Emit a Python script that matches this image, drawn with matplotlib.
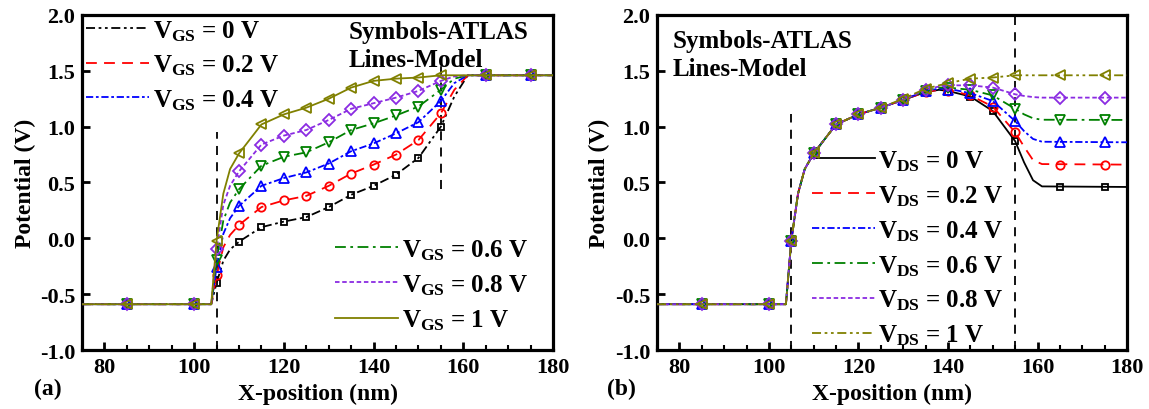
import numpy as np
import matplotlib.pyplot as plt
from matplotlib.lines import Line2D

plt.rcParams['font.family'] = 'Liberation Serif'
plt.rcParams['font.weight'] = 'bold'
plt.rcParams['mathtext.fontset'] = 'custom'
plt.rcParams['mathtext.rm'] = 'Liberation Serif:bold'
plt.rcParams['mathtext.bf'] = 'Liberation Serif:bold'
plt.rcParams['mathtext.it'] = 'Liberation Serif:bold'

# ---- data: symbols (ATLAS) ----
x_sym = [85, 100, 105, 110, 115, 120, 125, 130, 135, 140, 145, 150, 155, 165, 175]

# (a) potential vs VGS
a_sym = {
    '0':   [-0.59, -0.59, -0.40, -0.03, 0.10, 0.15, 0.19, 0.28, 0.39, 0.47, 0.57, 0.72, 1.00, 1.46, 1.46],
    '0.2': [-0.59, -0.59, -0.33, 0.12, 0.28, 0.34, 0.38, 0.47, 0.58, 0.66, 0.75, 0.88, 1.12, 1.46, 1.46],
    '0.4': [-0.59, -0.59, -0.26, 0.29, 0.47, 0.54, 0.59, 0.67, 0.78, 0.85, 0.94, 1.04, 1.23, 1.46, 1.46],
    '0.6': [-0.59, -0.59, -0.19, 0.44, 0.65, 0.73, 0.77, 0.86, 0.97, 1.03, 1.10, 1.18, 1.33, 1.46, 1.46],
    '0.8': [-0.59, -0.59, -0.10, 0.60, 0.84, 0.92, 0.97, 1.06, 1.16, 1.21, 1.26, 1.32, 1.41, 1.46, 1.46],
    '1':   [-0.59, -0.59, -0.02, 0.76, 1.02, 1.11, 1.17, 1.25, 1.35, 1.41, 1.43, 1.44, 1.46, 1.46, 1.46],
}

# (b) potential vs VDS
b_sym = {
    '0':   [-0.59, -0.59, -0.02, 0.76, 1.02, 1.11, 1.17, 1.24, 1.31, 1.31, 1.27, 1.14, 0.87, 0.46, 0.46],
    '0.2': [-0.59, -0.59, -0.02, 0.76, 1.02, 1.11, 1.17, 1.24, 1.31, 1.32, 1.28, 1.18, 0.95, 0.66, 0.66],
    '0.4': [-0.59, -0.59, -0.02, 0.76, 1.02, 1.11, 1.17, 1.24, 1.32, 1.33, 1.30, 1.23, 1.05, 0.86, 0.86],
    '0.6': [-0.59, -0.59, -0.02, 0.76, 1.02, 1.11, 1.17, 1.24, 1.32, 1.35, 1.33, 1.28, 1.16, 1.06, 1.06],
    '0.8': [-0.59, -0.59, -0.02, 0.76, 1.02, 1.11, 1.17, 1.24, 1.33, 1.37, 1.37, 1.35, 1.29, 1.26, 1.26],
    '1':   [-0.59, -0.59, -0.02, 0.76, 1.02, 1.11, 1.17, 1.25, 1.34, 1.39, 1.43, 1.44, 1.46, 1.46, 1.46],
}

# ---- data: lines (model) ----
x_line_a = [75, 103.8, 105, 106.5, 108, 110, 115, 120, 125, 130, 135, 140, 145, 150, 155, 158, 161, 180]
a_line = {
    '0':   [-0.59, -0.59, -0.40, -0.20, -0.10, -0.03, 0.10, 0.15, 0.19, 0.28, 0.39, 0.47, 0.57, 0.72, 1.00, 1.27, 1.46, 1.46],
    '0.2': [-0.59, -0.59, -0.33, -0.08, 0.03, 0.12, 0.28, 0.34, 0.38, 0.47, 0.58, 0.66, 0.75, 0.88, 1.12, 1.33, 1.46, 1.46],
    '0.4': [-0.59, -0.59, -0.26, 0.04, 0.18, 0.29, 0.47, 0.54, 0.59, 0.67, 0.78, 0.85, 0.94, 1.04, 1.23, 1.39, 1.46, 1.46],
    '0.6': [-0.59, -0.59, -0.19, 0.16, 0.32, 0.44, 0.65, 0.73, 0.77, 0.86, 0.97, 1.03, 1.10, 1.18, 1.33, 1.43, 1.46, 1.46],
    '0.8': [-0.59, -0.59, -0.10, 0.30, 0.47, 0.60, 0.84, 0.92, 0.97, 1.06, 1.16, 1.21, 1.26, 1.32, 1.41, 1.45, 1.46, 1.46],
    '1':   [-0.59, -0.59, -0.02, 0.40, 0.62, 0.76, 1.02, 1.11, 1.17, 1.25, 1.35, 1.41, 1.43, 1.44, 1.46, 1.46, 1.46, 1.46],
}

x_line_b = [75, 103.8, 105, 106.5, 108, 110, 115, 120, 125, 130, 135, 138, 140, 145, 150, 155, 157, 159, 161, 180]
b_line = {
    '0':   [-0.59, -0.59, -0.02, 0.40, 0.62, 0.76, 1.02, 1.11, 1.17, 1.24, 1.31, 1.33, 1.32, 1.27, 1.14, 0.87, 0.68, 0.52, 0.465, 0.46],
    '0.2': [-0.59, -0.59, -0.02, 0.40, 0.62, 0.76, 1.02, 1.11, 1.17, 1.24, 1.31, 1.33, 1.33, 1.28, 1.18, 0.95, 0.82, 0.70, 0.665, 0.66],
    '0.4': [-0.59, -0.59, -0.02, 0.40, 0.62, 0.76, 1.02, 1.11, 1.17, 1.24, 1.32, 1.34, 1.34, 1.30, 1.23, 1.05, 0.96, 0.89, 0.865, 0.86],
    '0.6': [-0.59, -0.59, -0.02, 0.40, 0.62, 0.76, 1.02, 1.11, 1.17, 1.24, 1.32, 1.35, 1.35, 1.33, 1.28, 1.16, 1.11, 1.075, 1.062, 1.06],
    '0.8': [-0.59, -0.59, -0.02, 0.40, 0.62, 0.76, 1.02, 1.11, 1.17, 1.24, 1.33, 1.36, 1.37, 1.37, 1.35, 1.29, 1.275, 1.265, 1.26, 1.26],
    '1':   [-0.59, -0.59, -0.02, 0.40, 0.62, 0.76, 1.02, 1.11, 1.17, 1.25, 1.34, 1.37, 1.39, 1.43, 1.44, 1.46, 1.46, 1.46, 1.46, 1.46],
}

keys = ['0', '0.2', '0.4', '0.6', '0.8', '1']
colors = ['black', '#ff0000', '#0000ff', '#008000', '#8a2be2', '#808000']
markers = ['s', 'o', '^', 'v', 'D', '<']
msizes = [5, 6, 7, 7, 6, 7]

dashdotdot = (0, (5, 2, 1.5, 2, 1.5, 2))
styles_a = [dashdotdot, (0, (6, 4)), (0, (4, 1.5, 1.5, 1.5)), (0, (6, 2.5, 1.5, 2.5)), (0, (2.5, 1.5)), '-']
styles_b = ['-', (0, (6, 4)), (0, (4, 1.5, 1.5, 1.5)), (0, (6, 2.5, 1.5, 2.5)), (0, (2.5, 1.5)), dashdotdot]

LEG = 18

fig = plt.figure(figsize=(11.49, 4.10), dpi=100)
ax_a = fig.add_axes([0.0714, 0.1439, 0.4099, 0.8171])
ax_b = fig.add_axes([0.5718, 0.1439, 0.4091, 0.8171])


def style_axes(ax):
    ax.set_xlim(75, 180)
    ax.set_ylim(-1.0, 2.0)
    ax.set_xticks([80, 100, 120, 140, 160, 180])
    ax.set_xticks(np.arange(75, 181, 5), minor=True)
    ax.set_yticks([-1.0, -0.5, 0.0, 0.5, 1.0, 1.5, 2.0])
    ax.set_yticklabels(['-1.0', '-0.5', '0.0', '0.5', '1.0', '1.5', '2.0'])
    ax.tick_params(which='major', direction='in', length=6, width=2, labelsize=16, pad=5)
    ax.tick_params(which='minor', direction='in', length=3.5, width=1.5)
    for s in ax.spines.values():
        s.set_linewidth(2.3)
    ax.set_xlabel('X-position (nm)', fontsize=17, fontweight='bold', labelpad=4)
    ax.set_ylabel('Potential (V)', fontsize=17, fontweight='bold', labelpad=3)


def make_handles(styles, sub, idx):
    hs = []
    for i in idx:
        hs.append(Line2D([], [], color=colors[i], linestyle=styles[i], lw=1.3,
                         label='V$_{\\mathrm{%s}}$ = %s V' % (sub, keys[i])))
    return hs


def add_legend(ax, handles, left, top, spacing=0.42):
    return ax.legend(handles=handles, loc='upper left', bbox_to_anchor=(left, top),
                     frameon=False, handlelength=2.5, handletextpad=0.15,
                     labelspacing=spacing, borderaxespad=0, borderpad=0,
                     prop={'weight': 'bold', 'size': LEG})


# ---- panel (a) ----
ax = ax_a
ax.plot([105, 105], [-1.0, 0.95], color='black', lw=1.3, linestyle=(0, (5, 4)), zorder=1)
ax.plot([155, 155], [0.44, 1.55], color='black', lw=1.3, linestyle=(0, (5, 4)), zorder=1)
for i, k in enumerate(keys):
    ax.plot(x_line_a, a_line[k], color=colors[i], linestyle=styles_a[i], lw=1.3, zorder=2 + i)
    ax.plot(x_sym, a_sym[k], linestyle='none', marker=markers[i], ms=msizes[i],
            mfc='none', mec=colors[i], mew=1.3, zorder=2 + i)
style_axes(ax)
leg1 = add_legend(ax, make_handles(styles_a, 'GS', [0, 1, 2]), 0.009, 0.991, spacing=0.40)
ax.add_artist(leg1)
add_legend(ax, make_handles(styles_a, 'GS', [3, 4, 5]), 0.538, 0.337)
ax.text(134.4, 1.85, 'Symbols-ATLAS', fontsize=LEG, fontweight='bold', va='center', ha='left')
ax.text(134.4, 1.60, 'Lines-Model', fontsize=LEG, fontweight='bold', va='center', ha='left')

# ---- panel (b) ----
ax = ax_b
ax.plot([105, 105], [-1.0, 1.11], color='black', lw=1.3, linestyle=(0, (5, 4)), zorder=1)
ax.plot([155, 155], [-1.0, 2.0], color='black', lw=1.3, linestyle=(0, (5, 4)), zorder=1)
for i, k in enumerate(keys):
    ax.plot(x_line_b, b_line[k], color=colors[i], linestyle=styles_b[i], lw=1.3, zorder=2 + i)
    ax.plot(x_sym, b_sym[k], linestyle='none', marker=markers[i], ms=msizes[i],
            mfc='none', mec=colors[i], mew=1.3, zorder=2 + i)
style_axes(ax)
add_legend(ax, make_handles(styles_b, 'DS', [0, 1, 2, 3, 4, 5]), 0.330, 0.603, spacing=0.415)
ax.text(78.6, 1.77, 'Symbols-ATLAS', fontsize=LEG, fontweight='bold', va='center', ha='left')
ax.text(78.6, 1.52, 'Lines-Model', fontsize=LEG, fontweight='bold', va='center', ha='left')

fig.text(48 / 1149, 1 - 389 / 410, '(a)', fontsize=17, fontweight='bold', ha='center', va='center')
fig.text(621 / 1149, 1 - 389 / 410, '(b)', fontsize=17, fontweight='bold', ha='center', va='center')

fig.savefig('out.png', dpi=100)
